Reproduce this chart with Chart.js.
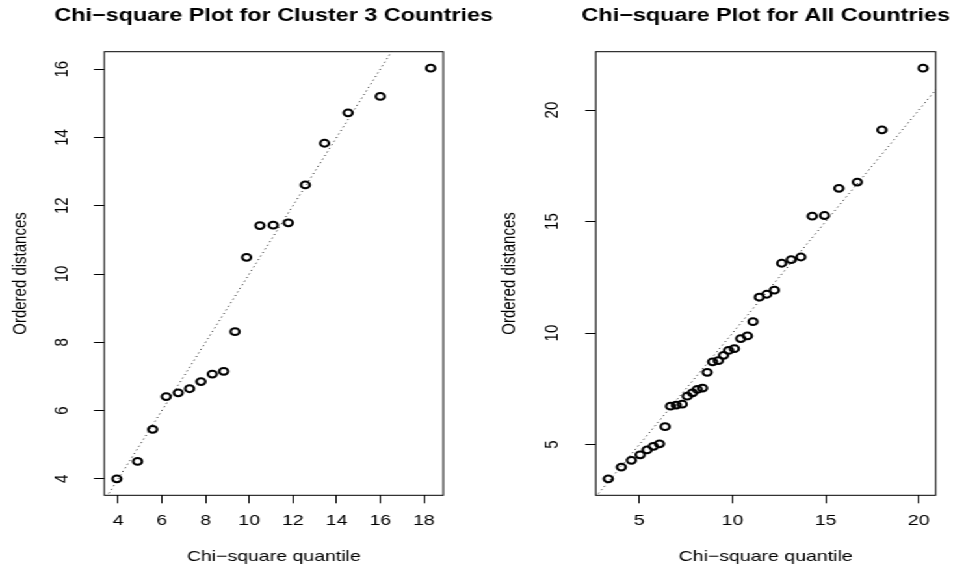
<!DOCTYPE html>
<html>
<head>
<meta charset="utf-8">
<script src="https://cdn.jsdelivr.net/npm/chart.js@4/dist/chart.umd.min.js"></script>
<style>
  html, body { margin: 0; padding: 0; background: #fff; }
  /* the reference is stretched sideways, so draw narrow and widen */
  #stage { position: absolute; left: 0; top: 0; width: 733px; height: 567px;
           transform: scaleX(1.30014); transform-origin: 0 0; }
  canvas { position: absolute; top: 0; }
</style>
</head>
<body>
<div id="stage">
  <canvas id="cluster" width="400" height="567" style="left:0"></canvas>
  <canvas id="all" width="367" height="567" style="left:366px"></canvas>
</div>
<script>
// Cluster 3 countries
const clusterQuantile = [3.94, 4.89, 5.58, 6.20, 6.75, 7.27, 7.79, 8.31, 8.83, 9.35,
                         9.88, 10.49, 11.10, 11.79, 12.57, 13.45, 14.53, 16.00, 18.31];
const clusterDistance = [4.00, 4.51, 5.45, 6.41, 6.52, 6.64, 6.85, 7.07, 7.15, 8.31,
                         10.49, 11.42, 11.43, 11.50, 12.61, 13.83, 14.72, 15.20, 16.03];
const clusterXTicks = [4, 6, 8, 10, 12, 14, 16, 18];
const clusterYTicks = [4, 6, 8, 10, 12, 14, 16];

// All countries
const allQuantile = [3.33, 4.03, 4.57, 5.04, 5.41, 5.75, 6.08, 6.38, 6.67, 6.98, 7.30, 7.57,
                     7.85, 8.11, 8.39, 8.64, 8.93, 9.24, 9.52, 9.79, 10.10, 10.44, 10.80, 11.10,
                     11.44, 11.84, 12.25, 12.64, 13.15, 13.67, 14.28, 14.94, 15.71, 16.70, 18.02, 20.23];
const allDistance = [3.46, 3.99, 4.29, 4.54, 4.76, 4.92, 5.03, 5.80, 6.72, 6.77, 6.81, 7.17,
                     7.32, 7.47, 7.53, 8.24, 8.71, 8.76, 9.00, 9.22, 9.30, 9.75, 9.87, 10.51,
                     11.61, 11.74, 11.92, 13.13, 13.29, 13.41, 15.24, 15.27, 16.49, 16.77, 19.11, 21.88];
const allXTicks = [5, 10, 15, 20];
const allYTicks = [5, 10, 15, 20];

const FONT = '"Liberation Sans", Arial, Helvetica, sans-serif';
Chart.defaults.font.family = FONT;
Chart.defaults.font.size = 15;
Chart.defaults.color = "#000";

// box round the plot region, like R's box()
const plotBox = {
    id: "plotBox",
    afterDraw(chart) {
        const a = chart.chartArea;
        const ctx = chart.ctx;
        ctx.save();
        ctx.strokeStyle = "#000";
        ctx.lineWidth = 1;
        ctx.strokeRect(a.left, a.top, a.right - a.left, a.bottom - a.top);
        ctx.restore();
    }
};

// main title centred over the plot region, allowed to run past it
const mainTitle = {
    id: "mainTitle",
    afterDraw(chart, args, opts) {
        const a = chart.chartArea;
        const ctx = chart.ctx;
        ctx.save();
        ctx.font = "bold 18px " + FONT;
        ctx.fillStyle = "#000";
        ctx.textAlign = "center";
        ctx.textBaseline = "middle";
        ctx.fillText(opts.text, (a.left + a.right) / 2, 16.4);
        ctx.restore();
    }
};

// R style range: data range padded by 4% on each side
function rRange(vals) {
    const lo = Math.min(...vals), hi = Math.max(...vals);
    const pad = (hi - lo) * 0.04;
    return [lo - pad, hi + pad];
}

function makeChart(id, title, xs, ys, xTicks, yTicks, g) {
    const [xMin, xMax] = rRange(xs);
    const [yMin, yMax] = rRange(ys);
    const lo = Math.min(xMin, yMin), hi = Math.max(xMax, yMax);

    return new Chart(document.getElementById(id), {
        type: "scatter",
        data: {
            datasets: [
                {
                    data: xs.map((x, i) => ({ x: x, y: ys[i] })),
                    pointStyle: "circle",
                    pointRadius: 3.4,
                    pointBorderWidth: 2,
                    pointBorderColor: "#000",
                    pointBackgroundColor: "rgba(0,0,0,0)",
                    clip: false
                },
                {
                    data: [{ x: lo, y: lo }, { x: hi, y: hi }],
                    showLine: true,
                    borderColor: "#222",
                    borderWidth: 1,
                    borderDash: [1, 3],
                    pointRadius: 0,
                    clip: 0
                }
            ]
        },
        options: {
            responsive: false,
            animation: false,
            events: [],
            layout: { padding: { left: 0, right: g.rightPad, top: 51.7, bottom: 0 } },
            plugins: {
                legend: { display: false },
                tooltip: { enabled: false },
                title: { display: false },
                mainTitle: { text: title }
            },
            scales: {
                x: {
                    type: "linear",
                    min: xMin,
                    max: xMax,
                    afterBuildTicks: s => { s.ticks = xTicks.map(v => ({ value: v })); },
                    afterFit: s => { s.height = 71.7; },
                    grid: { drawOnChartArea: false, tickLength: 8, color: "#000" },
                    border: { display: false },
                    ticks: { padding: 9, autoSkip: false, maxRotation: 0, callback: v => String(v) },
                    title: { display: true, text: "Chi\u2212square quantile", padding: { top: 0, bottom: 1 } }
                },
                y: {
                    type: "linear",
                    min: yMin,
                    max: yMax,
                    afterBuildTicks: s => { s.ticks = yTicks.map(v => ({ value: v })); },
                    afterFit: s => { s.width = g.yWidth; },
                    grid: { drawOnChartArea: false, tickLength: 8, color: "#000" },
                    border: { display: false },
                    ticks: {
                        padding: g.tickPad, autoSkip: false, minRotation: 90, maxRotation: 90,
                        crossAlign: "center", callback: v => String(v)
                    },
                    title: { display: true, text: "Ordered distances", padding: { top: g.titlePad, bottom: 0 } }
                }
            }
        },
        plugins: [plotBox, mainTitle]
    });
}

makeChart("cluster", "Chi\u2212square Plot for Cluster 3 Countries",
    clusterQuantile, clusterDistance, clusterXTicks, clusterYTicks,
    { yWidth: 80.22, rightPad: 59.04, tickPad: 16, titlePad: 6.4 });

makeChart("all", "Chi\u2212square Plot for All Countries",
    allQuantile, allDistance, allXTicks, allYTicks,
    { yWidth: 92.18, rightPad: 13.31, tickPad: 17, titlePad: 17.3 });
</script>
</body>
</html>
